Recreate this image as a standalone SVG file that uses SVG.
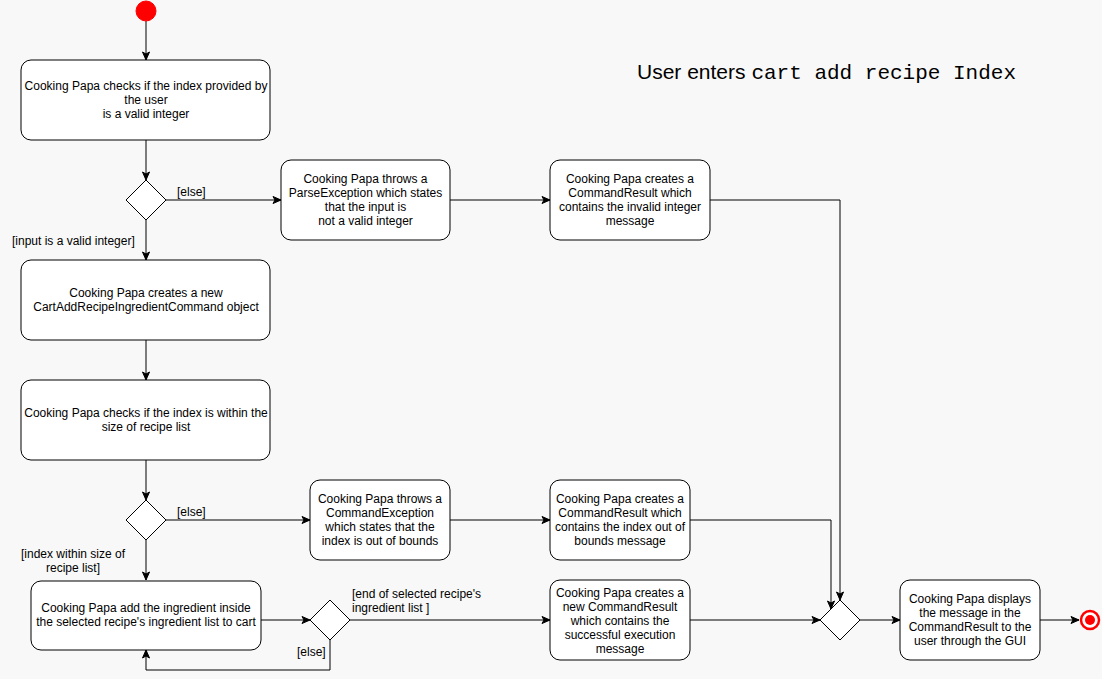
<svg xmlns="http://www.w3.org/2000/svg" width="1102" height="679" viewBox="0 0 1102 679">
<defs>
<style>
.bg{fill:#f8f8f8}
.box{fill:#ffffff;stroke:#000;stroke-width:1}
.dia{fill:#ffffff;stroke:#000;stroke-width:1}
.t{font-family:"Liberation Sans",Arial,Helvetica,sans-serif;font-size:12px;fill:#000;text-anchor:middle}
.l{font-family:"Liberation Sans",Arial,Helvetica,sans-serif;font-size:12px;fill:#000}
.c{fill:none;stroke:#000;stroke-width:1}
</style>
<marker id="arr" markerWidth="10" markerHeight="10" refX="9" refY="5" orient="auto" markerUnits="userSpaceOnUse">
<path d="M1,1.5 L9,5 L1,8.5 L3,5 Z" fill="#000" stroke="#000" stroke-width="1"/>
</marker>
</defs>
<rect class="bg" x="0" y="0" width="1102" height="679"/>

<g id="title">
<text x="637" y="79" font-family="'Liberation Sans',Arial,Helvetica,sans-serif" font-size="21" fill="#000">User enters <tspan font-family="'Liberation Mono','Courier New',monospace" font-size="21">cart add recipe Index</tspan></text>
</g>

<g id="connectors">
<path class="c" d="M146,21 L146,60" marker-end="url(#arr)"/>
<path class="c" d="M146,140 L146,180" marker-end="url(#arr)"/>
<path class="c" d="M166,200 L281,200" marker-end="url(#arr)"/>
<path class="c" d="M450,200 L550,200" marker-end="url(#arr)"/>
<path class="c" d="M710,200 L840,200 L840,600" marker-end="url(#arr)"/>
<path class="c" d="M146,220 L146,260" marker-end="url(#arr)"/>
<path class="c" d="M146,340 L146,380" marker-end="url(#arr)"/>
<path class="c" d="M146,460 L146,500" marker-end="url(#arr)"/>
<path class="c" d="M166,520 L310,520" marker-end="url(#arr)"/>
<path class="c" d="M450,520 L550,520" marker-end="url(#arr)"/>
<path class="c" d="M690,520 L831,520 L831,609" marker-end="url(#arr)"/>
<path class="c" d="M146,540 L146,580" marker-end="url(#arr)"/>
<path class="c" d="M261,620 L310,620" marker-end="url(#arr)"/>
<path class="c" d="M330,640 L330,670 L146,670 L146,650" marker-end="url(#arr)"/>
<path class="c" d="M350,620 L550,620" marker-end="url(#arr)"/>
<path class="c" d="M690,620 L820,620" marker-end="url(#arr)"/>
<path class="c" d="M860,620 L900,620" marker-end="url(#arr)"/>
<path class="c" d="M1040,620 L1079,620" marker-end="url(#arr)"/>
<text class="l" x="177" y="196">[else]</text>
<text class="l" x="12" y="245">[input is a valid integer]</text>
<text class="l" x="177" y="516">[else]</text>
<text class="t" x="73" y="558">[index within size of</text>
<text class="t" x="73" y="572">recipe list]</text>
<text class="l" x="352" y="598">[end of selected recipe's</text>
<text class="l" x="352" y="612">ingredient list ]</text>
<text class="l" x="297" y="656">[else]</text>
</g>

<g id="start">
<circle cx="146" cy="11" r="10" fill="#ff0000" stroke="#ff0000"/>
</g>

<g id="check-index">
<rect class="box" x="21" y="60" width="249" height="80" rx="10"/>
<text class="t" x="146" y="90">Cooking Papa checks if the index provided by</text>
<text class="t" x="146" y="104">the user</text>
<text class="t" x="146" y="118">is a valid integer</text>
</g>

<g id="decision-valid">
<path class="dia" d="M146,180 L166,200 L146,220 L126,200 Z"/>
</g>

<g id="parse-exception">
<rect class="box" x="281" y="160" width="169" height="80" rx="10"/>
<text class="t" x="365.5" y="183">Cooking Papa throws a</text>
<text class="t" x="365.5" y="197">ParseException which states</text>
<text class="t" x="365.5" y="211">that the input is</text>
<text class="t" x="365.5" y="225">not a valid integer</text>
</g>

<g id="result-invalid">
<rect class="box" x="550" y="160" width="160" height="80" rx="10"/>
<text class="t" x="630" y="183">Cooking Papa creates a</text>
<text class="t" x="630" y="197">CommandResult which</text>
<text class="t" x="630" y="211">contains the invalid integer</text>
<text class="t" x="630" y="225">message</text>
</g>

<g id="create-command">
<rect class="box" x="21" y="260" width="249" height="80" rx="10"/>
<text class="t" x="146" y="297">Cooking Papa creates a new</text>
<text class="t" x="146" y="311">CartAddRecipeIngredientCommand object</text>
</g>

<g id="check-size">
<rect class="box" x="21" y="380" width="249" height="80" rx="10"/>
<text class="t" x="146" y="417">Cooking Papa checks if the index is within the</text>
<text class="t" x="146" y="431">size of recipe list</text>
</g>

<g id="decision-size">
<path class="dia" d="M146,500 L166,520 L146,540 L126,520 Z"/>
</g>

<g id="command-exception">
<rect class="box" x="310" y="480" width="140" height="80" rx="10"/>
<text class="t" x="380" y="503">Cooking Papa throws a</text>
<text class="t" x="380" y="517">CommandException</text>
<text class="t" x="380" y="531">which states that the</text>
<text class="t" x="380" y="545">index is out of bounds</text>
</g>

<g id="result-out-of-bounds">
<rect class="box" x="550" y="480" width="140" height="80" rx="10"/>
<text class="t" x="620" y="503">Cooking Papa creates a</text>
<text class="t" x="620" y="517">CommandResult which</text>
<text class="t" x="620" y="531">contains the index out of</text>
<text class="t" x="620" y="545">bounds message</text>
</g>

<g id="add-ingredient">
<rect class="box" x="31" y="581" width="230" height="69" rx="10"/>
<text class="t" x="146" y="612">Cooking Papa add the ingredient inside</text>
<text class="t" x="146" y="626">the selected recipe's ingredient list to cart</text>
</g>

<g id="decision-end">
<path class="dia" d="M330,600 L350,620 L330,640 L310,620 Z"/>
</g>

<g id="result-success">
<rect class="box" x="550" y="580" width="140" height="80" rx="10"/>
<text class="t" x="620" y="597">Cooking Papa creates a</text>
<text class="t" x="620" y="611">new CommandResult</text>
<text class="t" x="620" y="625">which contains the</text>
<text class="t" x="620" y="639">successful execution</text>
<text class="t" x="620" y="653">message</text>
</g>

<g id="merge">
<path class="dia" d="M840,600 L860,620 L840,640 L820,620 Z"/>
</g>

<g id="display">
<rect class="box" x="900" y="580" width="140" height="80" rx="10"/>
<text class="t" x="970" y="603">Cooking Papa displays</text>
<text class="t" x="970" y="617">the message in the</text>
<text class="t" x="970" y="631">CommandResult to the</text>
<text class="t" x="970" y="645">user through the GUI</text>
</g>

<g id="end">
<circle cx="1090" cy="620" r="9" fill="#ffffff" stroke="#ff0000" stroke-width="2.5"/>
<circle cx="1090" cy="620" r="5" fill="#ff0000"/>
</g>
</svg>
